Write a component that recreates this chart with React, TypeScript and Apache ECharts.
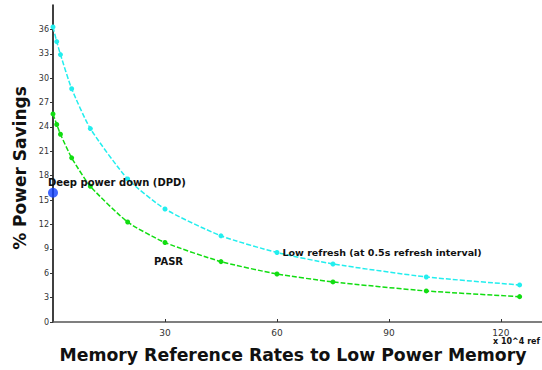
import React, { useEffect, useRef } from "react";
import * as echarts from "echarts";

const rates = [0, 1, 2, 5, 10, 20, 30, 45, 60, 75, 100, 125];
const lowRefresh = [36.3, 34.5, 32.9, 28.7, 23.8, 17.6, 13.9, 10.6, 8.55, 7.14, 5.54, 4.56];
const pasr = [25.6, 24.3, 23.1, 20.2, 16.7, 12.3, 9.78, 7.43, 5.91, 4.93, 3.82, 3.12];
const dpd: [number, number] = [0, 15.9];

const lowRefreshLabel = "Low refresh (at 0.5s refresh interval)";
const dpdLabel = "Deep power down (DPD)";
const pasrLabel = "PASR";
const xTitle = "Memory Reference Rates to Low Power Memory";
const yTitle = "% Power Savings";
const xUnit = "x 10^4 ref";

export default function App() {
  const ref = useRef<HTMLDivElement>(null);
  useEffect(() => {
    document.body.style.margin = "0";
    const chart = echarts.init(ref.current!, null, { renderer: "svg" });
    const font = "DejaVu Sans";
    chart.setOption({
      animation: false,
      backgroundColor: "#fff",
      grid: { left: 53, top: 5, right: 0, bottom: 48 },
      xAxis: {
        type: "value",
        min: 0,
        max: 131,
        interval: 30,
        axisLine: { lineStyle: { color: "#555", width: 1.5 } },
        axisTick: { show: true, length: 3, inside: true, lineStyle: { color: "#333" } },
        splitLine: { show: false },
        axisLabel: {
          showMinLabel: false,
          showMaxLabel: false,
          color: "#333",
          fontSize: 9,
          fontFamily: font,
          margin: 6,
        },
      },
      yAxis: {
        type: "value",
        min: 0,
        max: 39,
        interval: 3,
        axisLine: { show: true, lineStyle: { color: "#000", width: 1.5 } },
        axisTick: { show: true, length: 3, lineStyle: { color: "#333" } },
        splitLine: { show: false },
        axisLabel: {
          showMaxLabel: false,
          color: "#333",
          fontSize: 8,
          fontFamily: font,
          margin: 4,
        },
      },
      series: [
        {
          type: "line",
          data: rates.map((r, i) => [r, lowRefresh[i]]),
          smooth: 0.2,
          symbol: "circle",
          symbolSize: 5,
          itemStyle: { color: "#22eeee" },
          lineStyle: { color: "#22eeee", width: 1.5, type: [5, 2] },
          label: {
            show: true,
            position: "right",
            distance: 3,
            formatter: (p: any) => (p.dataIndex === 8 ? lowRefreshLabel : ""),
            color: "#111",
            fontSize: 9.5,
            fontWeight: "bold",
            fontFamily: font,
          },
          z: 3,
        },
        {
          type: "line",
          data: rates.map((r, i) => [r, pasr[i]]),
          smooth: 0.2,
          symbol: "circle",
          symbolSize: 5,
          itemStyle: { color: "#11dd11" },
          lineStyle: { color: "#11dd11", width: 1.5, type: [5, 2] },
          z: 3,
        },
        {
          type: "scatter",
          data: [dpd],
          symbol: "circle",
          symbolSize: 10,
          itemStyle: { color: "#1040ff" },
          z: 4,
        },
      ],
      graphic: [
        {
          type: "text",
          x: 48,
          y: 182,
          z: 10,
          style: {
            text: dpdLabel,
            fill: "#111",
            fontSize: 10,
            fontWeight: "bold",
            fontFamily: font,
            verticalAlign: "middle",
          },
        },
        {
          type: "text",
          x: 154,
          y: 261,
          style: {
            text: pasrLabel,
            fill: "#111",
            fontSize: 10,
            fontWeight: "bold",
            fontFamily: font,
            verticalAlign: "middle",
          },
        },
        {
          type: "text",
          x: 20,
          y: 168,
          rotation: Math.PI / 2,
          style: {
            text: yTitle,
            fill: "#111",
            fontSize: 17,
            fontWeight: "bold",
            fontFamily: font,
            align: "center",
            verticalAlign: "middle",
          },
        },
        {
          type: "text",
          x: 293,
          y: 355,
          style: {
            text: xTitle,
            fill: "#111",
            fontSize: 17.3,
            fontWeight: "bold",
            fontFamily: font,
            align: "center",
            verticalAlign: "middle",
          },
        },
        {
          type: "text",
          x: 493,
          y: 341,
          style: {
            text: xUnit,
            fill: "#111",
            fontSize: 8,
            fontWeight: "bold",
            fontFamily: font,
            verticalAlign: "middle",
          },
        },
      ],
    });
    return () => chart.dispose();
  }, []);
  return <div ref={ref} style={{ width: 542, height: 370 }} />;
}
